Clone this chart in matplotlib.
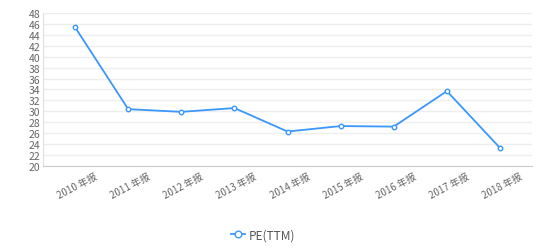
import matplotlib.pyplot as plt

plt.rcParams['font.family'] = ['Noto Sans CJK SC', 'DejaVu Sans']

categories = ["2010 年报", "2011 年报", "2012 年报", "2013 年报", "2014 年报",
              "2015 年报", "2016 年报", "2017 年报", "2018 年报"]
pe_ttm = [45.4, 30.4, 29.9, 30.6, 26.3, 27.3, 27.2, 33.7, 23.3]
yticks = list(range(20, 49, 2))

fig = plt.figure(figsize=(5.54, 2.51), dpi=100)
ax = fig.add_axes([0.078, 0.335, 0.882, 0.609])

x = list(range(len(categories)))
line, = ax.plot(x, pe_ttm, color='#3a97fb', lw=1.3, marker='o', markersize=3.2,
                markerfacecolor='white', markeredgecolor='#3a97fb', markeredgewidth=1,
                label='PE(TTM)', zorder=3)

ax.set_xlim(-0.6, len(categories) - 1 + 0.6)
ax.set_ylim(20, 48)
ax.set_yticks(yticks)
ax.set_yticklabels([str(t) for t in yticks], fontsize=7.5, color='#666666')
ax.set_xticks(x)
ax.set_xticklabels(categories, fontsize=7, color='#666666', rotation=28,
                   ha='center', rotation_mode='anchor')
for lab in ax.get_xticklabels():
    lab.set_y(-0.08)

ax.grid(axis='y', color='#eeeeee', lw=1)
ax.set_axisbelow(True)
ax.tick_params(length=0, pad=2)
for s in ['top', 'right']:
    ax.spines[s].set_visible(False)
ax.spines['left'].set_color('#e0e0e0')
ax.spines['bottom'].set_color('#cccccc')

fig.legend(handles=[line], loc='center', bbox_to_anchor=(0.475, 0.06), frameon=False,
           fontsize=8.5, labelcolor='#555555', handlelength=1.2, handletextpad=0.3,
           markerscale=1.5)

fig.savefig('out.png', dpi=100)
